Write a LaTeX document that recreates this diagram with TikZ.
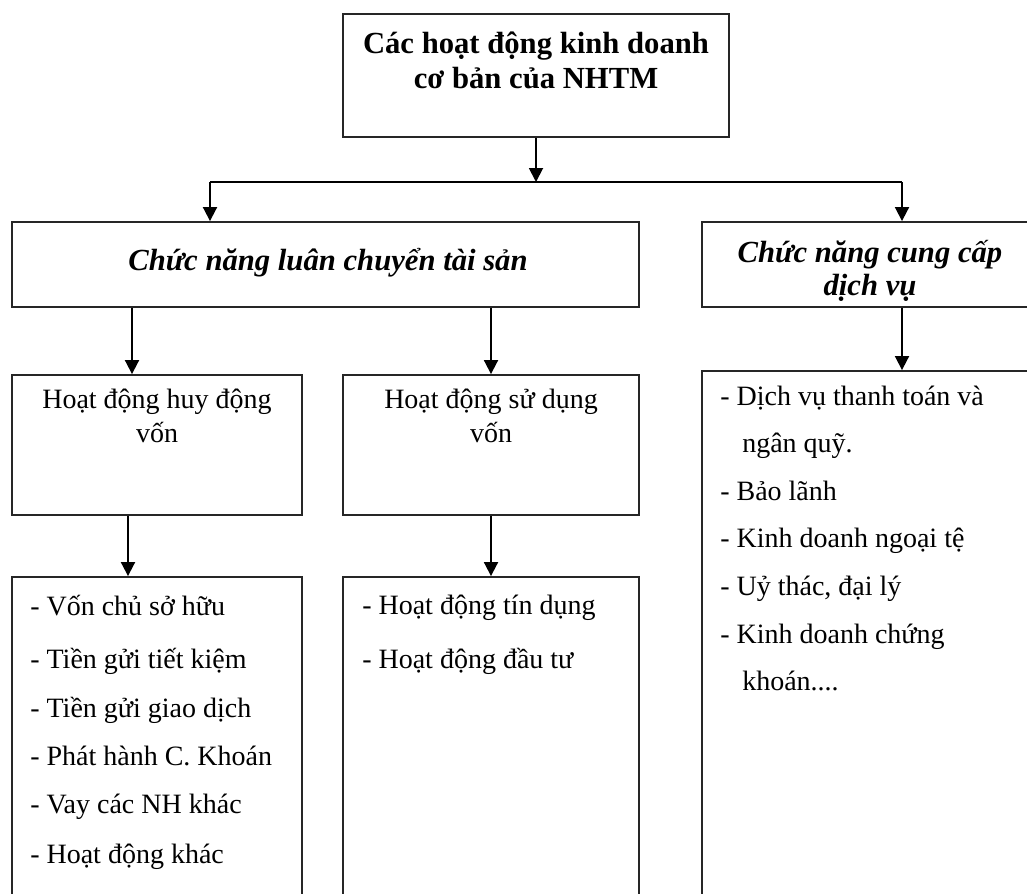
\documentclass[tikz,border=0pt]{standalone}
\usepackage{fontspec}
\setmainfont{Liberation Serif}
\usetikzlibrary{fit,arrows.meta}
\begin{document}
\begin{tikzpicture}[x=0.75pt,y=-0.75pt,
 box/.style={draw=black!85,line width=1.4pt,inner sep=0pt,rectangle},
 arr/.style={draw=black,line width=1.4pt,-{Triangle[length=10.5pt,width=10.5pt]}},
 ln/.style={draw=black,line width=1.4pt},
 tb/.style={font=\fontsize{23}{28}\selectfont\bfseries,inner sep=0pt},
 ti/.style={font=\fontsize{23}{28}\selectfont\bfseries\itshape,inner sep=0pt},
 tr/.style={font=\fontsize{21}{25}\selectfont,inner sep=0pt}]
\useasboundingbox (0,0) rectangle (1027,893);
\fill[white] (0,0) rectangle (1027,893);
\clip (0,0) rectangle (1027,893);
% boxes
\node[box,fit={(343,14) (729,137)}] (t) {};
\node[box,fit={(12,222) (639,307)}] (lc) {};
\node[box,fit={(702,222) (1040,307)}] (rc) {};
\node[box,fit={(12,375) (302,515)}] (h) {};
\node[box,fit={(343,375) (639,515)}] (s) {};
\node[box,fit={(12,577) (302,960)}] (hl) {};
\node[box,fit={(343,577) (639,960)}] (sl) {};
\node[box,fit={(702,371) (1040,960)}] (rl) {};
% texts
\node[tb,anchor=base] (t1) at (536,53) {Các hoạt động kinh doanh};
\node[tb,anchor=base] (t2) at (536,88) {cơ bản của NHTM};
\node[ti,anchor=base] (lc1) at (328,270) {Chức năng luân chuyển tài sản};
\node[ti,anchor=base] (rc1) at (870,262) {Chức năng cung cấp};
\node[ti,anchor=base] (rc2) at (870,295) {dịch vụ};
\node[tr,anchor=base] (h1) at (157,408) {Hoạt động huy động};
\node[tr,anchor=base] (h2) at (157,442) {vốn};
\node[tr,anchor=base] (s1) at (491,408) {Hoạt động sử dụng};
\node[tr,anchor=base] (s2) at (491,442) {vốn};
\foreach \y/\t [count=\i] in {615/{- Vốn chủ sở hữu},668/{- Tiền gửi tiết kiệm},717/{- Tiền gửi giao dịch},765/{- Phát hành C. Khoán},813/{- Vay các NH khác},863/{- Hoạt động khác}}
  \node[tr,anchor=base west] (hl\i) at (30,\y) {\t};
\node[tr,anchor=base west] (sl1) at (362,614) {- Hoạt động tín dụng};
\node[tr,anchor=base west] (sl2) at (362,668) {- Hoạt động đầu tư};
\foreach \y/\x/\t [count=\i] in {405/720/{- Dịch vụ thanh toán và},452/742/{ngân quỹ.},500/720/{- Bảo lãnh},547/720/{- Kinh doanh ngoại tệ},595/720/{- Uỷ thác, đại lý},643/720/{- Kinh doanh chứng},690/742/{khoán....}}
  \node[tr,anchor=base west] (rl\i) at (\x,\y) {\t};
% connectors
\coordinate (j) at (536,182);
\coordinate (jl) at (210,182);
\coordinate (jr) at (902,182);
\draw[arr] (t.south) -- (j);
\draw[ln] (jl) -- (jr);
\draw[arr] (jl) -- (jl |- lc.north);
\draw[arr] (jr) -- (jr |- rc.north);
\coordinate (c1) at (132,0);
\draw[arr] (c1 |- lc.south) -- (c1 |- h.north);
\draw[arr] (lc.south -| s.north) -- (s.north);
\coordinate (c2) at (902,0);
\draw[arr] (c2 |- rc.south) -- (c2 |- rl.north);
\coordinate (c3) at (128,0);
\draw[arr] (c3 |- h.south) -- (c3 |- hl.north);
\draw[arr] (s.south) -- (sl.north);
\end{tikzpicture}
\end{document}
